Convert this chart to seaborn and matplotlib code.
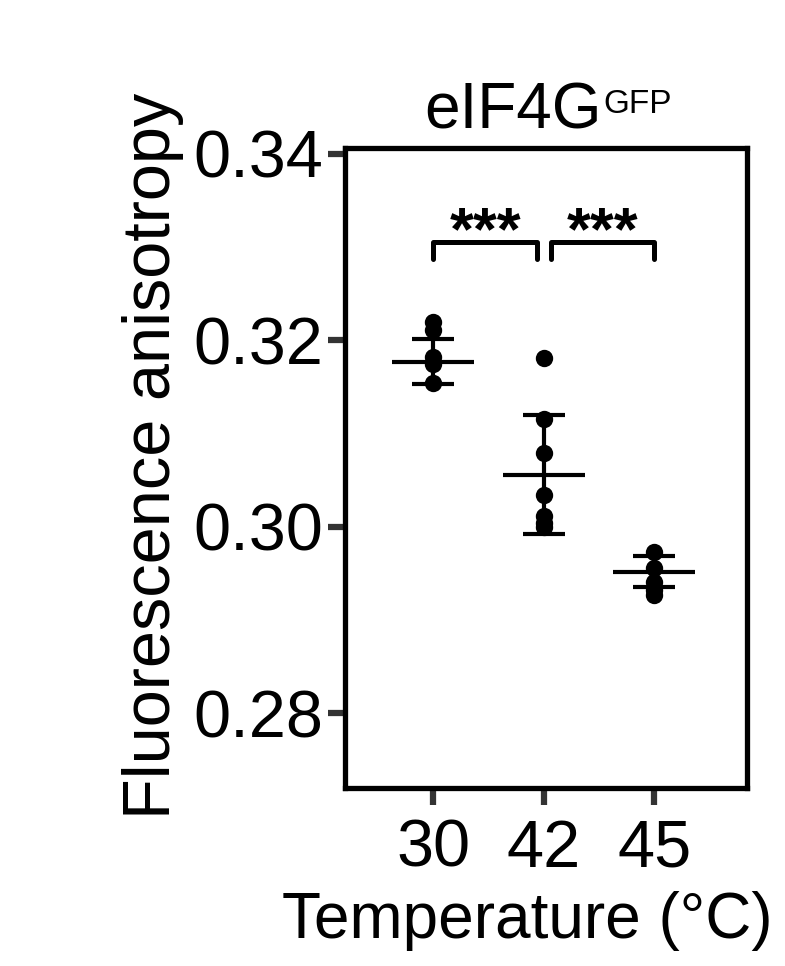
import pandas as pd
import seaborn as sns
import matplotlib.pyplot as plt

# Values
temperatures = ['30', '42', '45']
anisotropy_30 = [0.3219, 0.3211, 0.3182, 0.3174, 0.3154]
anisotropy_42 = [0.3181, 0.3115, 0.3079, 0.3034, 0.3011, 0.3004, 0.3000]
anisotropy_45 = [0.2973, 0.2956, 0.2941, 0.2932, 0.2927]
group_means = [0.3177, 0.3056, 0.2952]
group_sds = [0.0024, 0.0064, 0.0017]
y_ticks = [0.28, 0.30, 0.32, 0.34]
y_tick_labels = ['0.28', '0.30', '0.32', '0.34']
significance = ['***', '***']

# Build a long table for seaborn
rows = []
for temp, vals in zip(temperatures, [anisotropy_30, anisotropy_42, anisotropy_45]):
    for v in vals:
        rows.append({'Temperature': temp, 'Anisotropy': v})
data = pd.DataFrame(rows)

sns.set_style('white')
plt.rcParams['font.family'] = ['Liberation Sans', 'DejaVu Sans']
plt.rcParams['font.size'] = 48
plt.rcParams['text.color'] = 'black'
plt.rcParams['axes.labelcolor'] = 'black'

fig = plt.figure(figsize=(7.85, 9.66), dpi=100)
ax = fig.add_axes([0.4395, 0.1843, 0.512, 0.6625])

# Individual points
sns.stripplot(data=data, x='Temperature', y='Anisotropy', order=temperatures,
              color='black', jitter=False, size=12.5, linewidth=0, ax=ax, zorder=3)

# Mean and SD bars
positions = range(len(temperatures))
for pos, m, sd in zip(positions, group_means, group_sds):
    ax.hlines(m, pos - 0.37, pos + 0.37, color='black', lw=3)
    ax.hlines([m - sd, m + sd], pos - 0.19, pos + 0.19, color='black', lw=3)
    ax.vlines(pos, m - sd, m + sd, color='black', lw=3)

# Significance brackets
bracket_spans = [(0, 0.94), (1.07, 2.0)]
bracket_top, bracket_low = 0.3305, 0.3287
for (x0, x1), label in zip(bracket_spans, significance):
    ax.plot([x0, x0, x1, x1], [bracket_low, bracket_top, bracket_top, bracket_low],
            color='black', lw=3.6, solid_capstyle='round', solid_joinstyle='round')
    ax.text((x0 + x1) / 2, 0.3314, label, ha='center', va='center',
            fontsize=44, fontweight='bold')

ax.set_xlim(-0.8, 2.84)
ax.set_ylim(0.272, 0.3406)
ax.set_yticks(y_ticks)
ax.set_yticklabels(y_tick_labels)

for side in ['left', 'right', 'top', 'bottom']:
    ax.spines[side].set_visible(True)
    ax.spines[side].set_color('black')
    ax.spines[side].set_linewidth(3.8)

ax.tick_params(axis='both', direction='out', length=12, width=4.5, color='#333333',
               labelsize=48, labelcolor='black', bottom=True, left=True)
ax.tick_params(axis='y', pad=4)
ax.tick_params(axis='x', pad=10)

ax.set_xlabel('Temperature (°C)', fontsize=46, va='baseline')
ax.xaxis.set_label_coords(0.454, -0.234)
ax.set_ylabel('Fluorescence anisotropy', fontsize=48, va='baseline')
ax.yaxis.set_label_coords(-0.435, 0.519)

# Title with superscript
ax.text(0.639, 1.0297, 'eIF4G', transform=ax.transAxes, ha='right', va='baseline',
        fontsize=46)
ax.text(0.643, 1.0547, 'GFP', transform=ax.transAxes, ha='left', va='baseline',
        fontsize=24)

fig.savefig('out.png', dpi=100)
